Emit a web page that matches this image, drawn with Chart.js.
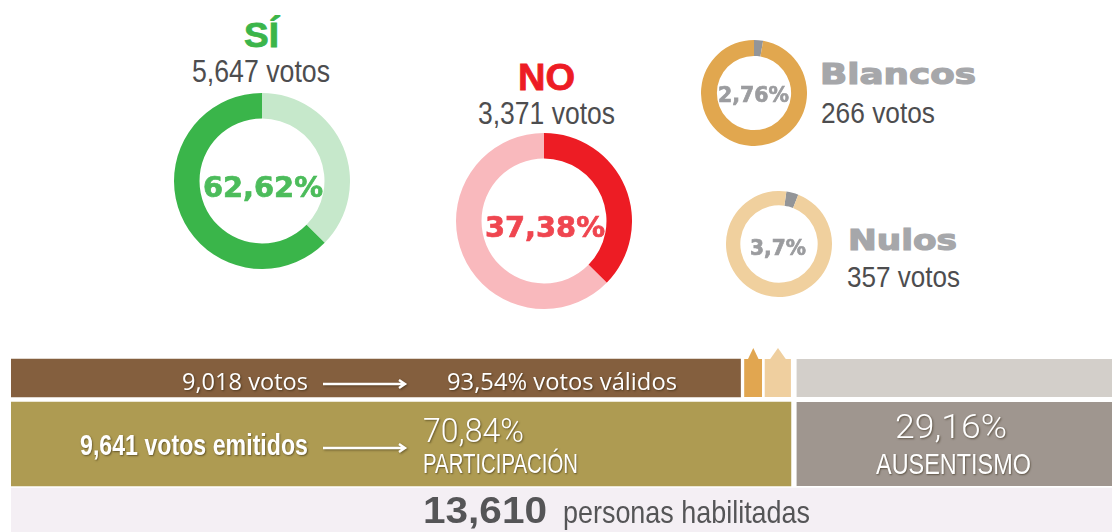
<!DOCTYPE html>
<html lang="es">
<head>
<meta charset="utf-8">
<title>Resultados de la consulta</title>
<script src="https://cdn.jsdelivr.net/npm/chart.js@4.4.1/dist/chart.umd.min.js"></script>
<style>
  html, body { margin: 0; padding: 0; background: #fff; width: 1112px; height: 532px; overflow: hidden; }
  #stage { position: relative; width: 1112px; height: 532px; }
  canvas { position: absolute; }
  .t { position: absolute; white-space: nowrap; line-height: 1; transform-origin: 0 0; }
  .narrow { font-family: "Liberation Sans Narrow", "Arial Narrow", "Liberation Sans", Arial, sans-serif; }
  .wide { font-family: "DejaVu Sans", sans-serif; font-weight: bold; -webkit-text-stroke: 0.7px currentColor; }
  .bold { font-family: "Liberation Sans", Arial, sans-serif; font-weight: bold; }
  .heavy { -webkit-text-stroke: 0.8px currentColor; }
  .open { font-family: "Open Sans", sans-serif; }
  .light { font-family: Roboto, "Liberation Sans", sans-serif; font-weight: 300; }
  .white { color: #fff; text-shadow: 1px 1px 2px rgba(40, 30, 10, .55); }
  .gray { color: #4d4d4f; }
  svg.arrow { position: absolute; filter: drop-shadow(1px 1px 1px rgba(40, 30, 10, .5)); }
</style>
</head>
<body>
<div id="stage">
  <canvas id="donutSi" width="176" height="176" style="left:174px;top:93px"></canvas>
  <canvas id="donutNo" width="176" height="176" style="left:456px;top:133px"></canvas>
  <canvas id="donutBlancos" width="106" height="106" style="left:701px;top:40px"></canvas>
  <canvas id="donutNulos" width="106" height="106" style="left:726px;top:191px"></canvas>
  <canvas id="bars" width="1112" height="208" style="left:0;top:335px"></canvas>

  <div class="t bold heavy" data-x="261" data-b="47" data-s="35" data-w="35" data-a="c" style="color:#3bb54a">SÍ</div>
  <div class="t narrow gray" data-x="261" data-b="82" data-s="31" data-w="138" data-a="c">5,647 votos</div>
  <div class="t wide" data-x="263" data-b="196.5" data-s="27.5" data-w="120" data-a="c" style="color:#4cbc5b">62,62%</div>

  <div class="t bold heavy" data-x="546" data-b="90" data-s="37" data-w="57" data-a="c" style="color:#ed1c24">NO</div>
  <div class="t narrow gray" data-x="546" data-b="124" data-s="31" data-w="137" data-a="c">3,371 votos</div>
  <div class="t wide" data-x="545" data-b="236.5" data-s="27.5" data-w="120" data-a="c" style="color:#ef4650">37,38%</div>

  <div class="t wide" data-x="820" data-b="84" data-s="29" data-w="156" style="color:#a6a7aa;-webkit-text-stroke-width:1.2px">Blancos</div>
  <div class="t narrow gray" data-x="821" data-b="123" data-s="29" data-w="114">266 votos</div>
  <div class="t wide" data-x="753.5" data-b="102" data-s="20.5" data-w="71" data-a="c" style="color:#9b9c9f">2,76%</div>

  <div class="t wide" data-x="848" data-b="250" data-s="29" data-w="109" style="color:#a6a7aa;-webkit-text-stroke-width:1.2px">Nulos</div>
  <div class="t narrow gray" data-x="847" data-b="287" data-s="29" data-w="113">357 votos</div>
  <div class="t wide" data-x="778" data-b="255" data-s="20.5" data-w="56" data-a="c" style="color:#9b9c9f">3,7%</div>

  <div class="t open white" data-x="182" data-b="390" data-s="24" data-w="126">9,018 votos</div>
  <svg class="arrow" style="left:322px;top:378px" width="88" height="12"><path d="M1 6 H83 M77 2 L83 6 L77 10" stroke="#fff" stroke-width="2.4" fill="none"/></svg>
  <div class="t open white" data-x="447" data-b="390" data-s="24" data-w="230">93,54% votos válidos</div>

  <div class="t narrow white" data-x="80" data-b="455" data-s="29" data-w="228" style="font-weight:bold">9,641 votos emitidos</div>
  <svg class="arrow" style="left:322px;top:442px" width="88" height="12"><path d="M1 6 H83 M77 2 L83 6 L77 10" stroke="#fff" stroke-width="2.4" fill="none"/></svg>
  <div class="t light white" data-x="423" data-b="442" data-s="34" data-w="101">70,84%</div>
  <div class="t narrow white" data-x="423" data-b="473" data-s="28" data-w="155">PARTICIPACIÓN</div>

  <div class="t light white" data-x="951" data-b="438" data-s="33" data-w="112" data-a="c">29,16%</div>
  <div class="t narrow white" data-x="953" data-b="474" data-s="30" data-w="155" data-a="c">AUSENTISMO</div>

  <div class="t bold" data-x="423" data-b="523" data-s="36" data-w="124" style="color:#555557">13,610</div>
  <div class="t narrow" data-x="563" data-b="523" data-s="32" data-w="247" style="color:#555557">personas habilitadas</div>
</div>
<script>
// results per option
const options = ['SÍ', 'NO', 'Blancos', 'Nulos'];
const votes = [5647, 3371, 266, 357];
const shares = [62.62, 37.38, 2.76, 3.7];

// participation bars
const barRows = ['Votos válidos', 'Votos emitidos', 'Personas habilitadas'];
const votosValidos = 9018;
const votosEmitidos = 9641;
const habilitados = 13610;
const ausentes = habilitados - votosEmitidos;

Chart.defaults.animation = false;
Chart.defaults.plugins.legend.display = false;
Chart.defaults.plugins.tooltip.enabled = false;

function donut(id, data, colors, cutout, rotation) {
  return new Chart(document.getElementById(id), {
    type: 'doughnut',
    data: {
      labels: ['a', 'b'],
      datasets: [{ data: data, backgroundColor: colors, borderWidth: 0 }]
    },
    options: { responsive: false, cutout: cutout, rotation: rotation || 0, layout: { padding: 0 } }
  });
}

// SÍ: rest clockwise from the top, then the SÍ share
donut('donutSi', [100 - shares[0], shares[0]], ['#c6e8cb', '#3ab54a'], '71%');
donut('donutNo', [shares[1], 100 - shares[1]], ['#ed1c24', '#f9b9bd'], '71%');
donut('donutBlancos', [shares[2], 100 - shares[2]], ['#939598', '#e1a74f'], '70%');
donut('donutNulos', [shares[3], 100 - shares[3]], ['#939598', '#f0d09e'], '73%', 8);

const pointers = {
  id: 'pointers',
  afterDatasetsDraw(chart) {
    const c = chart.ctx;
    [1, 2].forEach(i => {
      const bar = chart.getDatasetMeta(i).data[0];
      const ds = chart.data.datasets[i];
      const left = bar.base + ds.borderWidth.left;
      const mid = (left + bar.x) / 2;
      const half = (bar.x - left) * 0.3;
      const top = bar.y - bar.height / 2;
      c.save();
      c.fillStyle = ds.backgroundColor;
      c.beginPath();
      c.moveTo(mid - half, top);
      c.lineTo(mid, top - 11);
      c.lineTo(mid + half, top);
      c.closePath();
      c.fill();
      c.restore();
    });
  }
};

function gap(n) { return { left: n, right: 0, top: 0, bottom: 0 }; }

new Chart(document.getElementById('bars'), {
  type: 'bar',
  data: {
    labels: barRows,
    datasets: [
      { label: 'Válidos', data: [votosValidos, null, null], backgroundColor: '#845f3e', barThickness: 38, borderWidth: gap(0) },
      { label: 'Blancos', data: [votes[2], null, null], backgroundColor: '#e1a650', barThickness: 38, borderWidth: gap(4) },
      { label: 'Nulos', data: [votes[3], null, null], backgroundColor: '#efcf9f', barThickness: 38, borderWidth: gap(3) },
      { label: 'Ausentes', data: [ausentes, null, null], backgroundColor: '#d3cfca', barThickness: 38, borderWidth: gap(6) },
      { label: 'Emitidos', data: [null, votosEmitidos, null], backgroundColor: '#ae9b52', barThickness: 84, borderWidth: gap(0) },
      { label: 'Ausentismo', data: [null, ausentes, null], backgroundColor: '#9f968f', barThickness: 84, borderWidth: gap(6) },
      { label: 'Habilitados', data: [null, null, habilitados], backgroundColor: '#f4eff4', barThickness: 44, borderWidth: gap(0) }
    ]
  },
  options: {
    indexAxis: 'y',
    responsive: false,
    layout: { padding: { left: 11, right: 0, top: 10, bottom: 0 } },
    datasets: { bar: { borderSkipped: false, borderColor: '#fff' } },
    scales: {
      x: { stacked: true, min: 0, max: habilitados, display: false },
      y: { stacked: true, display: false }
    }
  },
  plugins: [pointers]
});

// place the labels on their baselines and stretch them to the measured widths
document.querySelectorAll('.t').forEach(el => {
  const fs = +el.dataset.s;
  el.style.fontSize = fs + 'px';
  const strut = document.createElement('span');
  strut.style.cssText = 'display:inline-block;width:0;height:0;vertical-align:baseline';
  el.appendChild(strut);
  const natural = el.getBoundingClientRect().width;
  const w = el.dataset.w ? +el.dataset.w : natural;
  const x = +el.dataset.x;
  el.style.left = (el.dataset.a === 'c' ? x - w / 2 : x) + 'px';
  el.style.top = (+el.dataset.b - strut.offsetTop) + 'px';
  el.style.transform = 'scaleX(' + (w / natural) + ')';
});
</script>
</body>
</html>
